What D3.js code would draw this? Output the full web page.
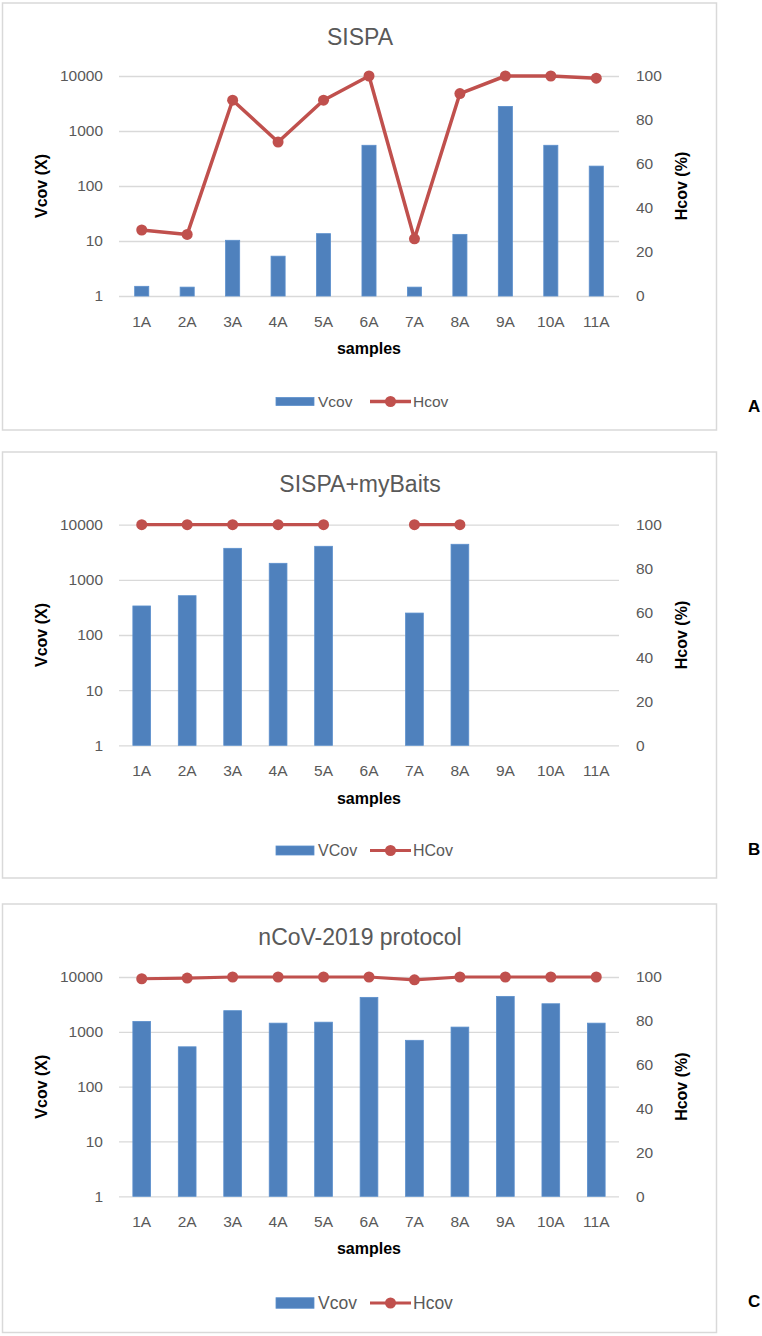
<!DOCTYPE html>
<html>
<head>
<meta charset="utf-8">
<script src="https://cdn.jsdelivr.net/npm/d3@7/dist/d3.min.js"></script>
<style>
  html, body { margin: 0; padding: 0; background: #fff; }
  svg { display: block; }
  text { font-family: "Liberation Sans", Arial, sans-serif; }
</style>
</head>
<body>
<svg id="chart" width="762" height="1336"></svg>
<script>
// ---------------- data ----------------
const samples = ["1A", "2A", "3A", "4A", "5A", "6A", "7A", "8A", "9A", "10A", "11A"];
const vcovTicks = [1, 10, 100, 1000, 10000];
const hcovTicks = [0, 20, 40, 60, 80, 100];

const panelTitles = ["SISPA", "SISPA+myBaits", "nCoV-2019 protocol"];
const panelLetters = ["A", "B", "C"];
const vcovLegend = ["Vcov", "VCov", "Vcov"];
const hcovLegend = ["Hcov", "HCov", "Hcov"];

const sispaVcov = [1.5, 1.45, 10.3, 5.3, 13.6, 550, 1.45, 13.2, 2800, 550, 230];
const sispaHcov = [30, 28, 89, 70, 89, 100, 26, 92, 100, 100, 99];

const baitsVcov = [336, 516, 3730, 1995, 4060, null, 250, 4415, null, null, null];
const baitsHcov = [100, 100, 100, 100, 100, null, 100, 100, null, null, null];

const ncovVcov = [1550, 533, 2430, 1440, 1500, 4250, 700, 1220, 4430, 3250, 1440];
const ncovHcov = [99.2, 99.5, 100, 100, 100, 100, 98.7, 100, 100, 100, 100];

// ---------------- layout ----------------
const svg = d3.select("#chart");
const plotLeft = 119, plotRight = 619;
const blue = "#4f81bd", red = "#c0504d", grid = "#d9d9d9", txt = "#595959";

const panels = [
  { vcov: sispaVcov, hcov: sispaHcov, frame: [3, 430], titleY: 45, grid: [76, 296], catY: 326.5, samplesY: 354,
    legendY: 401.5, letterY: 412, barFrac: 0.31, swatchH: 8, legendFont: 15.5, lineW: 3.5 },
  { vcov: baitsVcov, hcov: baitsHcov, frame: [452, 878], titleY: 492, grid: [524.7, 745.3], catY: 775.5, samplesY: 803.5,
    legendY: 850.5, letterY: 855, barFrac: 0.39, swatchH: 9, legendFont: 16, lineW: 3.2 },
  { vcov: ncovVcov, hcov: ncovHcov, frame: [904, 1332.5], titleY: 945, grid: [977, 1196.3], catY: 1226.5, samplesY: 1254,
    legendY: 1303, letterY: 1307, barFrac: 0.39, swatchH: 10.5, legendFont: 17.5, lineW: 3.2 }
];

panels.forEach((p, i) => {
  const g = svg.append("g");

  // frame
  g.append("rect")
    .attr("x", 2.5).attr("y", p.frame[0])
    .attr("width", 714).attr("height", p.frame[1] - p.frame[0])
    .attr("fill", "#fff").attr("stroke", grid).attr("stroke-width", 1.5);

  const x = d3.scaleBand().domain(samples).range([plotLeft, plotRight])
    .paddingInner(1 - p.barFrac).paddingOuter((1 - p.barFrac) / 2);
  const yL = d3.scaleLog().domain([1, 10000]).range([p.grid[1], p.grid[0]]);
  const yR = d3.scaleLinear().domain([0, 100]).range([p.grid[1], p.grid[0]]);

  // gridlines
  const gridAxis = d3.axisLeft(yL).tickValues(vcovTicks).tickSize(-(plotRight - plotLeft)).tickFormat("");
  const gg = g.append("g").attr("transform", `translate(${plotLeft},0)`).call(gridAxis);
  gg.select(".domain").remove();
  gg.selectAll("line").attr("stroke", grid).attr("stroke-width", 1.3);

  // left axis labels
  const la = g.append("g").attr("transform", `translate(${plotLeft},0)`)
    .call(d3.axisLeft(yL).tickValues(vcovTicks).tickSize(0).tickPadding(16).tickFormat(d3.format("d")));
  la.select(".domain").remove();
  la.selectAll("text").attr("fill", txt).style("font-size", "15.5px").style("font-family", "'Liberation Sans', Arial, sans-serif");

  // right axis labels
  const ra = g.append("g").attr("transform", `translate(${plotRight},0)`)
    .call(d3.axisRight(yR).tickValues(hcovTicks).tickSize(0).tickPadding(17).tickFormat(d3.format("d")));
  ra.select(".domain").remove();
  ra.selectAll("text").attr("fill", txt).style("font-size", "15.5px").style("font-family", "'Liberation Sans', Arial, sans-serif");

  // category labels
  const xa = g.append("g").attr("transform", `translate(0,${p.catY})`)
    .call(d3.axisBottom(x).tickSize(0).tickPadding(0));
  xa.select(".domain").remove();
  xa.selectAll("text").attr("fill", txt).attr("dy", 0).attr("y", 0)
    .style("font-size", "15.5px").style("font-family", "'Liberation Sans', Arial, sans-serif");

  // bars
  const barData = samples.map((s, k) => ({ s, v: p.vcov[k] })).filter(d => d.v != null);
  g.append("g").selectAll("rect").data(barData).join("rect")
    .attr("x", d => x(d.s)).attr("width", x.bandwidth())
    .attr("y", d => yL(d.v)).attr("height", d => yL(1) - yL(d.v))
    .attr("fill", blue).attr("stroke", "#5b8fcc").attr("stroke-width", 0.8);

  // line + markers
  const pts = samples.map((s, k) => ({ s, v: p.hcov[k] }));
  const line = d3.line().defined(d => d.v != null)
    .x(d => x(d.s) + x.bandwidth() / 2).y(d => yR(d.v));
  g.append("path").datum(pts).attr("d", line)
    .attr("fill", "none").attr("stroke", red).attr("stroke-width", p.lineW).attr("stroke-linejoin", "round");
  g.append("g").selectAll("circle").data(pts.filter(d => d.v != null)).join("circle")
    .attr("cx", d => x(d.s) + x.bandwidth() / 2).attr("cy", d => yR(d.v)).attr("r", 5.5)
    .attr("fill", red);

  // title
  g.append("text").attr("x", 360).attr("y", p.titleY).attr("text-anchor", "middle")
    .attr("fill", txt).style("font-size", "23px")
    .style("font-family", "'Liberation Sans Narrow', 'Liberation Sans', Arial, sans-serif")
    .text(panelTitles[i]);

  // axis titles
  const midY = (p.grid[0] + p.grid[1]) / 2;
  g.append("text").attr("transform", `translate(47,${midY}) rotate(-90)`).attr("text-anchor", "middle")
    .attr("fill", "#000").style("font-size", "16px").style("font-weight", "bold").text("Vcov (X)");
  g.append("text").attr("transform", `translate(687,${midY}) rotate(-90)`).attr("text-anchor", "middle")
    .attr("fill", "#000").style("font-size", "16px").style("font-weight", "bold").text("Hcov (%)");
  g.append("text").attr("x", (plotLeft + plotRight) / 2).attr("y", p.samplesY).attr("text-anchor", "middle")
    .attr("fill", "#000").style("font-size", "16px").style("font-weight", "bold").text("samples");

  // legend
  const lg = g.append("g");
  lg.append("rect").attr("x", 276).attr("y", p.legendY - p.swatchH / 2).attr("width", 38).attr("height", p.swatchH)
    .attr("fill", blue).attr("stroke", "#5b8fcc").attr("stroke-width", 0.8);
  lg.append("text").attr("x", 318).attr("y", p.legendY).attr("dy", "0.36em")
    .attr("fill", txt).style("font-size", p.legendFont + "px").text(vcovLegend[i]);
  lg.append("line").attr("x1", 370).attr("x2", 411).attr("y1", p.legendY).attr("y2", p.legendY)
    .attr("stroke", red).attr("stroke-width", p.lineW);
  lg.append("circle").attr("cx", 390.5).attr("cy", p.legendY).attr("r", 5.5).attr("fill", red);
  lg.append("text").attr("x", 413).attr("y", p.legendY).attr("dy", "0.36em")
    .attr("fill", txt).style("font-size", p.legendFont + "px").text(hcovLegend[i]);

  // panel letter
  g.append("text").attr("x", 748).attr("y", p.letterY)
    .attr("fill", "#000").style("font-size", "17px").style("font-weight", "bold").text(panelLetters[i]);
});
</script>
</body>
</html>
